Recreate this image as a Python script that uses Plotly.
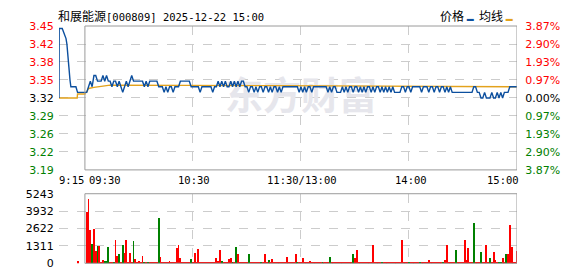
import plotly.graph_objects as go

# ---------------- data ----------------
prev_close = 3.32
price_half_range = 0.1285
title_text = "和展能源[000809] 2025-12-22 15:00"

# time axis in minutes relative to 09:30 (main session 0..240, lunch merged)
session_start = 0
session_end = 240
premarket_start = -14.4

price_ticks = [3.45, 3.42, 3.38, 3.35, 3.32, 3.29, 3.26, 3.22, 3.19]
pct_ticks = ["3.87%", "2.90%", "1.93%", "0.97%", "0.00%", "0.97%", "1.93%", "2.90%", "3.87%"]
vol_ticks = [0, 1311, 2622, 3932, 5243]
x_labels = ["9:15", "09:30", "10:30", "11:30/13:00", "14:00", "15:00"]
x_label_pos = [-14.4, 0, 60, 120, 180, 240]

# pre-market (call auction) price and average
pre_t = [-14.4, -14.3, -12.6, -12.0, -11.1, -10.5, -10.0, -9.6, -9.3, -8.9, -8.3, -7.8, -5.0, -4.5, -4.1, 0]
pre_price = [3.32, 3.444, 3.444, 3.439, 3.432, 3.426, 3.416, 3.404, 3.387, 3.375, 3.352, 3.34, 3.34, 3.335, 3.33, 3.33]
pre_avg_t = [-14.4, -4.3, -4.1, 0]
pre_avg = [3.32, 3.32, 3.327, 3.327]

# main session price per minute (241 points)
price = [
    3.33, 3.33, 3.34, 3.35, 3.34, 3.36, 3.36, 3.35, 3.35, 3.35,
    3.36, 3.35, 3.36, 3.35, 3.35, 3.34, 3.35, 3.35, 3.34, 3.35,
    3.34, 3.33, 3.34, 3.35, 3.34, 3.35, 3.36, 3.35, 3.35, 3.35,
    3.35, 3.35, 3.35, 3.34, 3.35, 3.34, 3.35, 3.35, 3.35, 3.35,
    3.35, 3.34, 3.34, 3.34, 3.33, 3.34, 3.33, 3.34, 3.34, 3.33,
    3.34, 3.34, 3.34, 3.35, 3.35, 3.35, 3.35, 3.35, 3.35, 3.34,
    3.34, 3.34, 3.34, 3.34, 3.33, 3.34, 3.34, 3.34, 3.34, 3.34,
    3.34, 3.33, 3.34, 3.34, 3.35, 3.34, 3.35, 3.34, 3.35, 3.34,
    3.34, 3.35, 3.34, 3.35, 3.34, 3.35, 3.34, 3.35, 3.35, 3.34,
    3.34, 3.33, 3.34, 3.34, 3.33, 3.34, 3.33, 3.34, 3.34, 3.33,
    3.34, 3.34, 3.33, 3.34, 3.33, 3.34, 3.34, 3.33, 3.34, 3.33,
    3.34, 3.34, 3.34, 3.34, 3.34, 3.34, 3.34, 3.34, 3.34, 3.33,
    3.34, 3.33, 3.34, 3.33, 3.34, 3.34, 3.33, 3.34, 3.34, 3.34,
    3.34, 3.34, 3.34, 3.34, 3.34, 3.33, 3.34, 3.33, 3.34, 3.34,
    3.33, 3.33, 3.33, 3.34, 3.33, 3.34, 3.33, 3.34, 3.34, 3.33,
    3.34, 3.34, 3.33, 3.34, 3.33, 3.34, 3.33, 3.34, 3.34, 3.33,
    3.34, 3.33, 3.34, 3.34, 3.33, 3.34, 3.33, 3.34, 3.33, 3.34,
    3.33, 3.34, 3.33, 3.33, 3.33, 3.33, 3.34, 3.34, 3.33, 3.34,
    3.34, 3.33, 3.34, 3.34, 3.34, 3.34, 3.34, 3.33, 3.34, 3.34,
    3.34, 3.33, 3.34, 3.34, 3.33, 3.34, 3.34, 3.33, 3.34, 3.34,
    3.33, 3.34, 3.33, 3.34, 3.33, 3.33, 3.33, 3.33, 3.33, 3.33,
    3.33, 3.33, 3.33, 3.33, 3.33, 3.33, 3.34, 3.34, 3.33, 3.33,
    3.32, 3.32, 3.33, 3.32, 3.32, 3.32, 3.33, 3.32, 3.32, 3.33,
    3.32, 3.33, 3.32, 3.33, 3.33, 3.33, 3.34, 3.34, 3.34, 3.34,
    3.34,
]

# average price line (breakpoints)
avg_t = [0, 1, 2, 5, 9, 14, 103, 219, 240]
avg_p = [3.328, 3.331, 3.337, 3.339, 3.341, 3.343, 3.342, 3.340, 3.340]

# volume
pre_vol_t = [-3.7]
pre_vol = [165]
pre_vol_dir = ["r"]

volume = [
    0, 3878, 4860, 2514, 1508, 2585, 911, 1293, 1293, 60,
    287, 201, 201, 1221, 100, 60, 150, 1795, 600, 690,
    60, 1436, 778, 1760, 60, 778, 100, 1700, 330, 150,
    200, 60, 580, 90, 60, 120, 60, 70, 60, 60,
    70, 3400, 478, 60, 50, 70, 60, 222, 60, 70,
    60, 1150, 1436, 400, 60, 60, 50, 60, 60, 330,
    60, 780, 60, 1080, 150, 60, 70, 60, 60, 60,
    60, 60, 60, 400, 222, 1000, 180, 60, 70, 60,
    330, 400, 90, 60, 1220, 690, 60, 60, 60, 70,
    60, 690, 60, 60, 60, 60, 60, 70, 120, 60,
    750, 90, 260, 120, 330, 60, 60, 60, 60, 60,
    60, 60, 480, 60, 60, 60, 60, 690, 90, 60,
    60, 400, 60, 90, 60, 210, 60, 60, 70, 60,
    60, 60, 70, 60, 60, 60, 480, 60, 60, 60,
    60, 60, 60, 60, 60, 60, 60, 60, 60, 690,
    400, 1000, 60, 60, 60, 60, 60, 60, 60, 60,
    1436, 60, 60, 60, 60, 120, 60, 60, 60, 60,
    60, 60, 60, 60, 60, 60, 1795, 60, 60, 60,
    90, 60, 60, 60, 60, 60, 120, 60, 60, 60,
    60, 270, 60, 60, 60, 60, 60, 60, 60, 120,
    260, 1400, 60, 60, 60, 60, 1000, 60, 60, 60,
    60, 1770, 260, 1150, 60, 60, 3088, 60, 60, 60,
    860, 150, 60, 1436, 60, 400, 60, 860, 260, 60,
    150, 150, 400, 60, 750, 690, 2944, 1221, 60, 60,
    970,
]
vol_dir = [
    "r", "r", "r", "r", "g", "r", "r", "g", "r", "r",
    "r", "g", "g", "g", "r", "r", "g", "r", "r", "g",
    "r", "g", "r", "r", "r", "r", "r", "g", "r", "r",
    "r", "r", "r", "g", "r", "g", "r", "r", "r", "r",
    "r", "g", "r", "r", "r", "r", "r", "r", "r", "r",
    "r", "r", "r", "r", "r", "r", "r", "r", "r", "g",
    "r", "r", "r", "r", "r", "r", "r", "r", "r", "r",
    "r", "r", "r", "r", "r", "r", "g", "r", "r", "r",
    "r", "r", "g", "r", "g", "r", "r", "r", "r", "r",
    "r", "g", "r", "r", "r", "r", "r", "r", "g", "r",
    "r", "r", "g", "r", "r", "r", "r", "r", "r", "r",
    "r", "r", "r", "r", "r", "r", "r", "r", "g", "r",
    "r", "r", "r", "r", "r", "r", "r", "r", "r", "r",
    "r", "r", "g", "r", "r", "r", "g", "r", "r", "r",
    "r", "r", "r", "r", "r", "r", "r", "r", "r", "g",
    "r", "r", "r", "r", "r", "r", "r", "r", "r", "r",
    "r", "r", "r", "r", "r", "g", "r", "r", "r", "r",
    "r", "r", "r", "r", "r", "r", "r", "r", "r", "r",
    "g", "r", "r", "r", "r", "r", "g", "r", "r", "r",
    "r", "r", "r", "r", "r", "r", "r", "r", "r", "g",
    "r", "r", "r", "r", "r", "r", "g", "r", "r", "r",
    "r", "r", "r", "r", "r", "r", "g", "r", "r", "r",
    "g", "r", "r", "r", "r", "g", "r", "r", "r", "r",
    "g", "g", "r", "r", "g", "r", "r", "r", "r", "r",
    "r",
]

# ---------------- styles ----------------
W, H = 578, 276
BLUE = "#0c4f9e"
GOLD = "#e3a21c"
RED = "#ff0000"
GREEN = "#008000"
GRID = "#cccccc"
FRAME = "#9a9a9a"
NUM_FONT = "DejaVu Sans, Verdana, sans-serif"
MONO_FONT = "DejaVu Sans Mono, Liberation Mono, monospace"
CJK_FONT = "Noto Sans CJK SC"

x0_px, x1_px = 59, 517
price_top_px, price_bot_px = 21, 172
vol_top_px, vol_bot_px = 197, 270
xdom = [x0_px / W, x1_px / W]
ydom_price = [1 - price_bot_px / H, 1 - price_top_px / H]
ydom_vol = [1 - vol_bot_px / H, 1 - vol_top_px / H]

minutes = list(range(session_start, session_end + 1))


def color_of(v):
    if v > prev_close + 1e-9:
        return RED
    if v < prev_close - 1e-9:
        return GREEN
    return "#000000"


price_tickvals = []
n = len(price_ticks)
for i in range(n):
    price_tickvals.append(prev_close + price_half_range * (1 - 2 * i / (n - 1)))
price_ticktext = [
    f'<span style="color:{color_of(v)}">{lbl:.2f}</span>'
    for v, lbl in zip(price_tickvals, price_ticks)
]
pct_ticktext = [
    f'<span style="color:{color_of(v)}">{t}</span>'
    for v, t in zip(price_tickvals, pct_ticks)
]
pct_half = price_half_range / prev_close * 100
pct_tickvals = [(v - prev_close) / prev_close * 100 for v in price_tickvals]

fig = go.Figure()

# watermark (drawn first so lines sit above it)
fig.add_trace(go.Scatter(
    x=[(session_start + session_end) / 2], y=[prev_close - 0.002],
    mode="text", text=["<b>东方财富</b>"],
    textfont=dict(family=CJK_FONT, size=38, color="#e6e6ec"),
    xaxis="x", yaxis="y", hoverinfo="skip", showlegend=False, cliponaxis=False,
))

# price & average lines
fig.add_trace(go.Scatter(
    x=pre_avg_t + avg_t, y=pre_avg + avg_p, mode="lines",
    line=dict(color=GOLD, width=1.4), xaxis="x", yaxis="y", showlegend=False,
))
fig.add_trace(go.Scatter(
    x=pre_t + minutes[1:], y=pre_price + price[1:], mode="lines",
    line=dict(color=BLUE, width=1.4), xaxis="x", yaxis="y", showlegend=False,
))
# invisible trace to activate percent axis
fig.add_trace(go.Scatter(
    x=[session_start], y=[0], mode="markers", marker=dict(opacity=0),
    xaxis="x", yaxis="y2", showlegend=False, hoverinfo="skip",
))

# volume bars
cmap = {"r": RED, "g": GREEN}
fig.add_trace(go.Bar(
    x=pre_vol_t + minutes, y=pre_vol + volume,
    marker=dict(color=[cmap[d] for d in pre_vol_dir + vol_dir], line=dict(width=0)),
    width=0.5, xaxis="x2", yaxis="y3", showlegend=False,
))

axis_common = dict(zeroline=False, showline=False, fixedrange=True)
fig.update_layout(
    width=W, height=H, autosize=False,
    margin=dict(l=0, r=0, t=0, b=0),
    paper_bgcolor="white", plot_bgcolor="white",
    bargap=0,
    xaxis=dict(
        domain=xdom, range=[premarket_start, session_end], anchor="y",
        tickvals=[premarket_start, 60, 120, 180], showticklabels=False,
        showgrid=True, gridcolor=GRID, griddash="dash", gridwidth=1, ticks="",
        **axis_common,
    ),
    xaxis2=dict(
        domain=xdom, range=[premarket_start, session_end], anchor="y3", matches="x",
        tickvals=[premarket_start, 60, 120, 180], showticklabels=False,
        showgrid=True, gridcolor=GRID, griddash="dash", gridwidth=1, ticks="",
        **axis_common,
    ),
    yaxis=dict(
        domain=ydom_price, range=[prev_close - price_half_range, prev_close + price_half_range],
        anchor="x", tickvals=price_tickvals, ticktext=price_ticktext,
        showgrid=True, gridcolor=GRID, griddash="dash", gridwidth=1,
        ticks="outside", ticklen=2, tickcolor="rgba(0,0,0,0)",
        tickfont=dict(family=NUM_FONT, size=11),
        **axis_common,
    ),
    yaxis2=dict(
        overlaying="y", side="right", anchor="x", range=[-pct_half, pct_half],
        tickvals=pct_tickvals, ticktext=pct_ticktext, showgrid=False,
        ticks="outside", ticklen=5, tickcolor="rgba(0,0,0,0)",
        tickfont=dict(family=NUM_FONT, size=11),
        **axis_common,
    ),
    yaxis3=dict(
        domain=ydom_vol, range=[0, vol_ticks[-1]], anchor="x2",
        tickvals=vol_ticks, ticktext=[str(v) for v in vol_ticks],
        showgrid=True, gridcolor=GRID, griddash="dash", gridwidth=1,
        ticks="outside", ticklen=2, tickcolor="rgba(0,0,0,0)",
        tickfont=dict(family=NUM_FONT, size=11, color="#000000"),
        **axis_common,
    ),
)

# solid frames around the continuous-session area
fig.add_shape(type="rect", xref="x", yref="y domain", x0=session_start, x1=session_end,
              y0=0, y1=1, line=dict(color=FRAME, width=1), layer="above")
fig.add_shape(type="rect", xref="x2", yref="y3 domain", x0=session_start, x1=session_end,
              y0=0, y1=1, line=dict(color=FRAME, width=1), layer="above")

# x tick labels
anchors = ["left", "left", "center", "center", "center", "right"]
shifts = [-2, 2, 1, 1, 2, 4]
for lbl, pos, anc, sh in zip(x_labels, x_label_pos, anchors, shifts):
    fig.add_annotation(
        x=pos, y=1 - 183 / H, xref="x", yref="paper", text=lbl, showarrow=False,
        xanchor=anc, yanchor="middle", font=dict(family=MONO_FONT, size=10.5, color="#000"),
        xshift=sh,
    )

# title
zh, rest = title_text[:4], title_text[4:]
fig.add_annotation(
    x=x0_px / W, y=1 - 10 / H, xref="paper", yref="paper", showarrow=False,
    xanchor="left", yanchor="middle", xshift=-3,
    text=f'<span style="font-family:{CJK_FONT};font-size:12px">{zh}</span>{rest}',
    font=dict(family=MONO_FONT, size=10.5, color="#000"),
)

# legend
fig.add_annotation(
    x=515 / W, y=1 - 10 / H, xref="paper", yref="paper", showarrow=False,
    xanchor="right", yanchor="middle",
    text=(f'价格 <span style="color:{BLUE};font-size:7px">▬</span>'
          f'  均线 <span style="color:{GOLD};font-size:7px">▬</span>'),
    font=dict(family=CJK_FONT, size=12, color="#000"),
)

fig.write_html("out.html")
